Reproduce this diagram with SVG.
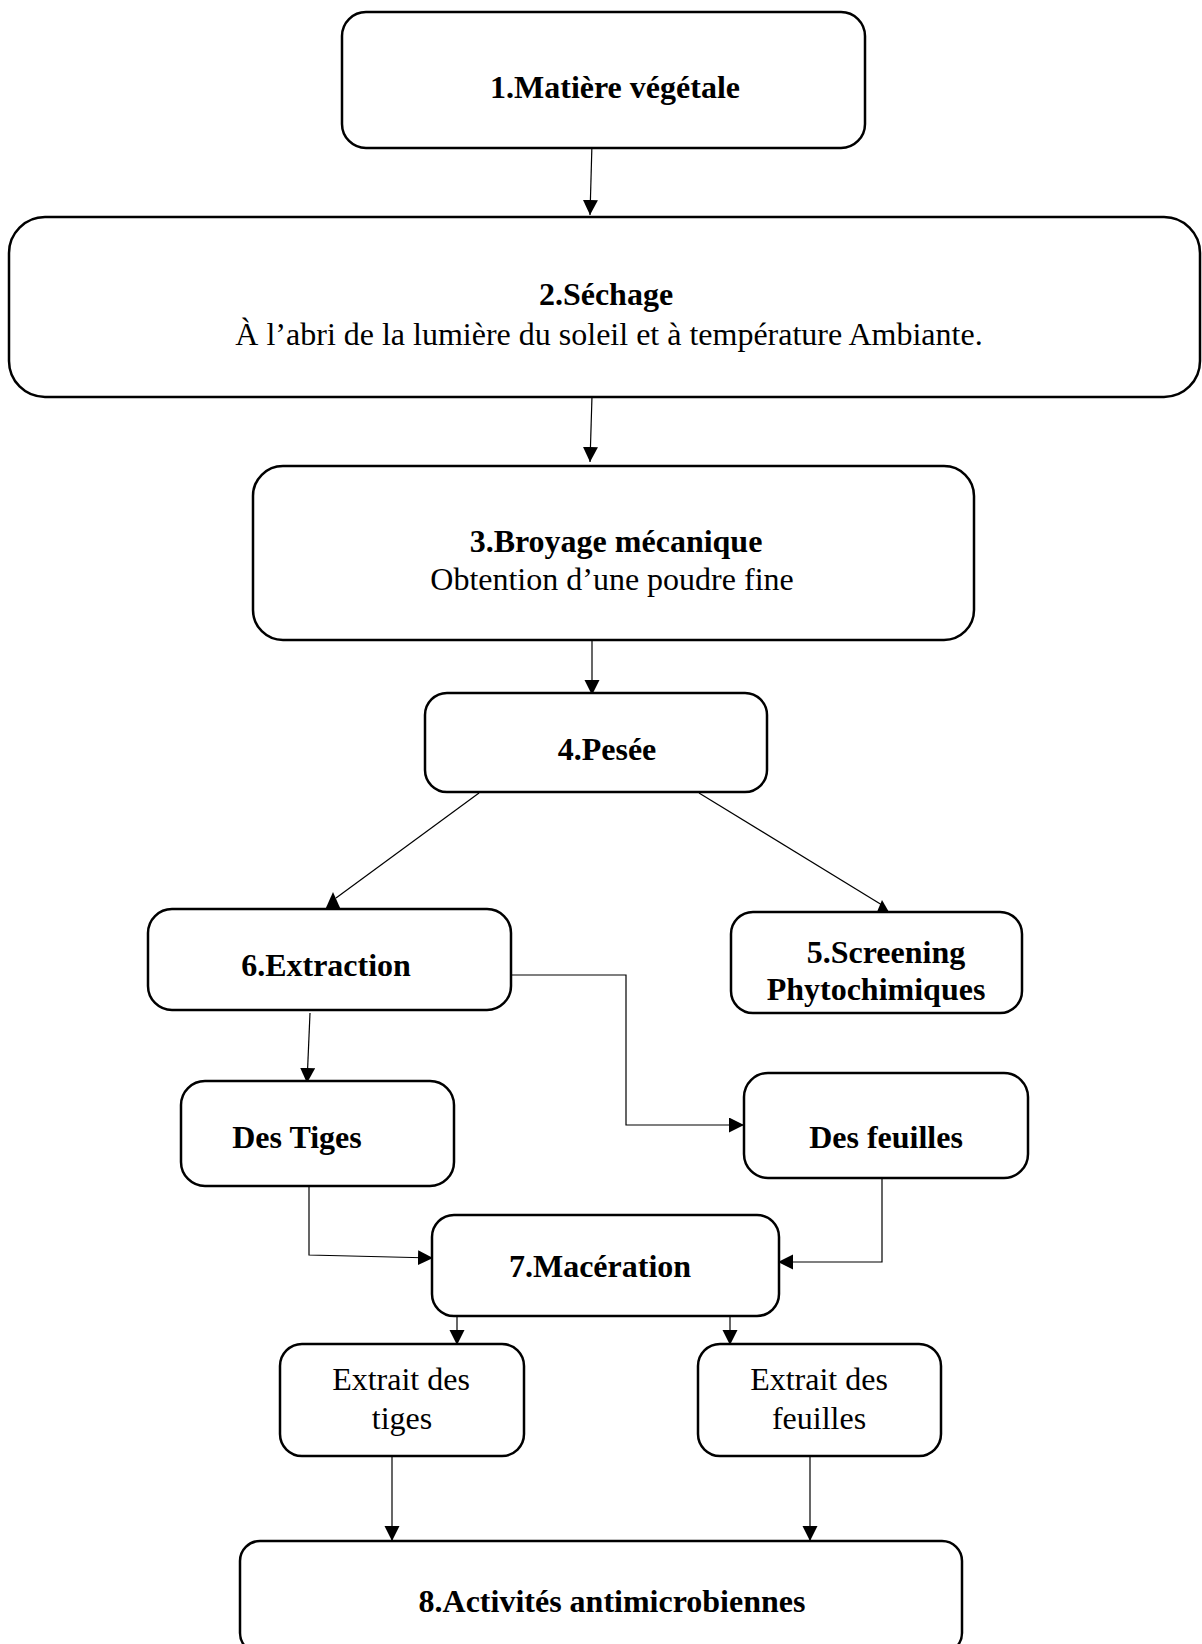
<svg xmlns="http://www.w3.org/2000/svg" width="1202" height="1644" viewBox="0 0 1202 1644">
<style>
.box{fill:#fff;stroke:#000;stroke-width:2.5}
.t{font-family:"Liberation Serif","Times New Roman",serif;font-size:32px;fill:#000;text-anchor:middle}
.b{font-weight:bold}
.c{fill:none;stroke:#000;stroke-width:1.2}
.h{fill:#000}
</style>
<defs>
<marker id="arr" markerUnits="userSpaceOnUse" markerWidth="16" markerHeight="16" refX="15" refY="7.5" orient="auto">
<path d="M0,0 L15,7.5 L0,15 z" fill="#000"/>
</marker>
</defs>
<rect width="1202" height="1644" fill="#fff"/>
<g id="connectors">
<line class="c" x1="592" y1="143" x2="590" y2="215" marker-end="url(#arr)"/>
<line class="c" x1="592" y1="396" x2="590" y2="462" marker-end="url(#arr)"/>
<line class="c" x1="592" y1="636" x2="592" y2="695" marker-end="url(#arr)"/>
<line class="c" x1="479" y1="793" x2="336" y2="898"/>
<polygon class="h" points="333,892 325,910 341,910"/>
<line class="c" x1="699" y1="793" x2="882" y2="905"/>
<polygon class="h" points="882,900 874,919 893,919"/>
<polyline class="c" points="511,975 626,975 626,1125 744,1125" marker-end="url(#arr)"/>
<line class="c" x1="310" y1="1013" x2="307" y2="1083" marker-end="url(#arr)"/>
<polyline class="c" points="309,1186 309,1255 433,1258" marker-end="url(#arr)"/>
<polyline class="c" points="882,1178 882,1262 778,1262" marker-end="url(#arr)"/>
<line class="c" x1="457" y1="1308" x2="457" y2="1345" marker-end="url(#arr)"/>
<line class="c" x1="730" y1="1308" x2="730" y2="1345" marker-end="url(#arr)"/>
<line class="c" x1="392" y1="1456" x2="392" y2="1541" marker-end="url(#arr)"/>
<line class="c" x1="810" y1="1456" x2="810" y2="1541" marker-end="url(#arr)"/>
</g>
<g id="n1"><rect class="box" x="342" y="12" width="523" height="136" rx="24"/><text class="t b" x="615" y="98">1.Matière végétale</text></g>
<g id="n2"><rect class="box" x="9" y="217" width="1191" height="180" rx="36"/><text class="t b" x="606" y="305">2.Séchage</text><text class="t" x="609" y="345">À l’abri de la lumière du soleil et à température Ambiante.</text></g>
<g id="n3"><rect class="box" x="253" y="466" width="721" height="174" rx="30"/><text class="t b" x="616" y="552">3.Broyage mécanique</text><text class="t" x="612" y="590">Obtention d’une poudre fine</text></g>
<g id="n4"><rect class="box" x="425" y="693" width="342" height="99" rx="22"/><text class="t b" x="607" y="760">4.Pesée</text></g>
<g id="n6"><rect class="box" x="148" y="909" width="363" height="101" rx="24"/><text class="t b" x="326" y="976">6.Extraction</text></g>
<g id="n5"><rect class="box" x="731" y="912" width="291" height="101" rx="22"/><text class="t b" x="886" y="963">5.Screening</text><text class="t b" x="876" y="1000">Phytochimiques</text></g>
<g id="tiges"><rect class="box" x="181" y="1081" width="273" height="105" rx="24"/><text class="t b" x="297" y="1148">Des Tiges</text></g>
<g id="feuilles"><rect class="box" x="744" y="1073" width="284" height="105" rx="24"/><text class="t b" x="886" y="1148">Des feuilles</text></g>
<g id="n7"><rect class="box" x="432" y="1215" width="347" height="101" rx="22"/><text class="t b" x="600" y="1277">7.Macération</text></g>
<g id="extrait-tiges"><rect class="box" x="280" y="1344" width="244" height="112" rx="22"/><text class="t" x="401" y="1390">Extrait des</text><text class="t" x="402" y="1429">tiges</text></g>
<g id="extrait-feuilles"><rect class="box" x="698" y="1344" width="243" height="112" rx="22"/><text class="t" x="819" y="1390">Extrait des</text><text class="t" x="819" y="1429">feuilles</text></g>
<g id="n8"><rect class="box" x="240" y="1541" width="722" height="112" rx="20"/><text class="t b" x="612" y="1612">8.Activités antimicrobiennes</text></g>
</svg>
